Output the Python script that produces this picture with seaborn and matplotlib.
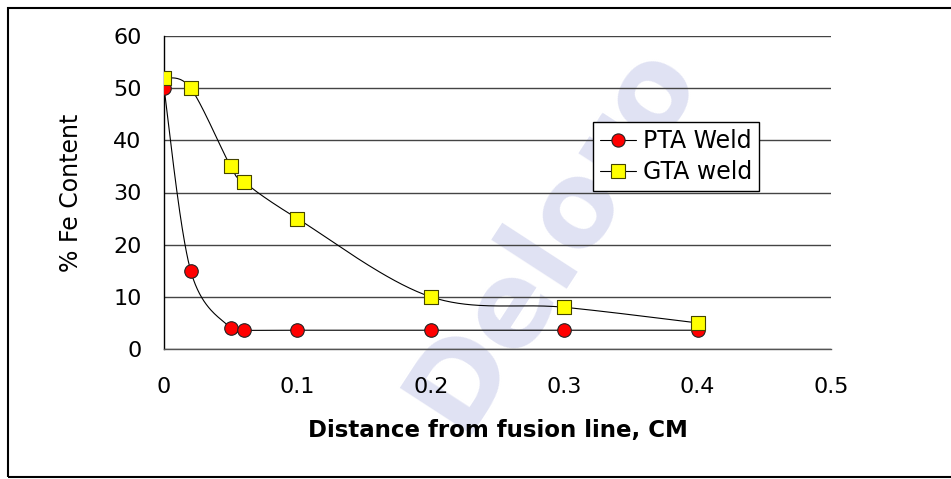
import numpy as np
import pandas as pd
import matplotlib
matplotlib.use("Agg")
import matplotlib.pyplot as plt
from matplotlib.lines import Line2D
from matplotlib.patches import Rectangle
import seaborn as sns

# ---- data ----
distance = [0.0, 0.02, 0.05, 0.06, 0.1, 0.2, 0.3, 0.4]
pta_fe = [50, 15, 4, 3.6, 3.6, 3.6, 3.6, 3.6]
gta_fe = [52, 50, 35, 32, 25, 10, 8, 5]
series_names = ["PTA Weld", "GTA weld"]
x_ticks = [0, 0.1, 0.2, 0.3, 0.4, 0.5]
x_tick_labels = ["0", "0.1", "0.2", "0.3", "0.4", "0.5"]
y_ticks = [0, 10, 20, 30, 40, 50, 60]

sns.set_theme(style="white")
plt.rcParams['font.family'] = ['DejaVu Sans']
plt.rcParams['text.color'] = 'black'
plt.rcParams['axes.labelcolor'] = 'black'
plt.rcParams['xtick.color'] = 'black'
plt.rcParams['ytick.color'] = 'black'

W, H = 951, 479
fig = plt.figure(figsize=(W / 100, H / 100), dpi=100)
ax = fig.add_axes([164 / W, 1 - 349 / H, (831 - 164) / W, (349 - 36) / H])
ax.set_facecolor("none")
ax.set_zorder(1)

# watermark (behind the chart)
fig.text(552 / W, 1 - 235 / H, "Deloro", rotation=57, color="#e0e2f3",
         fontsize=84, fontweight="bold", ha="center", va="center", zorder=0)

XMAX, YMAX = 0.5, 60
ax.set_xlim(0, XMAX)
ax.set_ylim(0, YMAX)


def smooth(xs, ys, n=40):
    # Catmull-Rom style smoothing (Excel-like) in screen-scaled coords
    sx = 667 / XMAX
    sy = 313 / YMAX
    P = np.column_stack([np.asarray(xs) * sx, np.asarray(ys) * sy])
    out = []
    m = len(P)
    for i in range(m - 1):
        p0 = P[i - 1] if i > 0 else P[i]
        p1 = P[i]
        p2 = P[i + 1]
        p3 = P[i + 2] if i + 2 < m else P[i + 1]
        c1 = p1 + (p2 - p0) / 6
        c2 = p2 - (p3 - p1) / 6
        t = np.linspace(0, 1, n)[:, None]
        seg = ((1 - t) ** 3) * p1 + 3 * ((1 - t) ** 2) * t * c1 + 3 * (1 - t) * t ** 2 * c2 + t ** 3 * p2
        out.append(seg if i == 0 else seg[1:])
    out = np.vstack(out)
    return out[:, 0] / sx, out[:, 1] / sy


for ys in (pta_fe, gta_fe):
    cx, cy = smooth(distance, ys)
    ax.plot(cx, cy, color="black", lw=0.8, zorder=3)

df = pd.DataFrame({
    "distance": distance * 2,
    "fe": pta_fe + gta_fe,
    "series": [series_names[0]] * len(distance) + [series_names[1]] * len(distance),
})
sns.scatterplot(data=df[df.series == series_names[0]], x="distance", y="fe", ax=ax,
                marker="o", s=95, color="#ff0000", edgecolor="#222222", linewidth=0.8,
                zorder=4, legend=False)
sns.scatterplot(data=df[df.series == series_names[1]], x="distance", y="fe", ax=ax,
                marker="s", s=100, color="#ffff00", edgecolor="#444400", linewidth=0.8,
                zorder=5, legend=False)

# axes styling
ax.set_xticks(x_ticks)
ax.set_xticklabels(x_tick_labels)
ax.set_yticks(y_ticks)
ax.yaxis.grid(True, color="#444444", lw=1.0)
ax.xaxis.grid(False)
ax.set_axisbelow(True)
for s in ("top", "right"):
    ax.spines[s].set_visible(False)
ax.spines["left"].set_color("black")
ax.spines["left"].set_linewidth(1.0)
ax.spines["bottom"].set_color("#555555")
ax.spines["bottom"].set_linewidth(1.0)
ax.tick_params(axis="both", direction="out", length=6, width=1.0, colors="black",
               labelsize=16)
ax.tick_params(axis="x", pad=14)
ax.tick_params(axis="y", pad=10)
ax.set_xlabel("Distance from fusion line, CM", fontsize=16.5, fontweight="bold", labelpad=16)
ax.set_ylabel("% Fe Content", fontsize=17, labelpad=22)

handles = [
    Line2D([0], [0], color="black", lw=0.8, marker="o", markersize=9.5,
           markerfacecolor="#ff0000", markeredgecolor="#222222", markeredgewidth=0.8),
    Line2D([0], [0], color="black", lw=0.8, marker="s", markersize=10,
           markerfacecolor="#ffff00", markeredgecolor="#444400", markeredgewidth=0.8),
]
leg = ax.legend(handles, series_names, loc="upper left",
                bbox_to_anchor=((593 - 164) / 667, 1 - (122 - 36) / 313),
                fontsize=17, frameon=True, fancybox=False, framealpha=1,
                edgecolor="black", handlelength=1.5, handletextpad=0.3,
                borderpad=0.3, labelspacing=0.3, borderaxespad=0)
leg.get_frame().set_linewidth(1.0)
leg.set_zorder(10)

# outer chart border
fig.patches.append(Rectangle((8 / W, 1 - 477 / H), (960 - 8) / W, (477 - 8) / H,
                             transform=fig.transFigure, fill=False,
                             edgecolor="black", lw=1.5, zorder=20))

fig.savefig("out.png", dpi=100)
